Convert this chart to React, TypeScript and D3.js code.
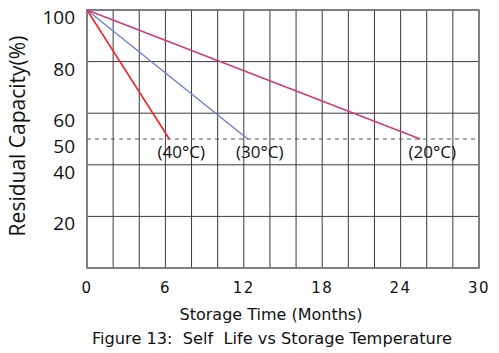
import * as d3 from 'd3';

const W = 499;
const H = 353;
const MARGIN = { top: 10, right: 20, bottom: 85, left: 87 };

// months on x, residual capacity % on y
const gridMonths = d3.range(0, 31, 2);
const xTickValues = [0, 6, 12, 18, 24, 30];
const gridCapacity = [0, 20, 40, 60, 80, 100];
const yTickLabels = [100, 80, 60, 50, 40, 20];
const CUTOFF = 50;

const seriesNames = ['(40°C)', '(30°C)', '(20°C)'];
const seriesColors = ['#ff1a1a', '#6f7fe0', '#d43a78'];
const seriesEndMonths = [6.3, 12.3, 25.5];
const seriesStart = 100;

const FONT = '"DejaVu Sans", Verdana, sans-serif';
const FONT2 = 'Open Sans, Noto Sans, sans-serif';

export default function App() {
  const innerW = W - MARGIN.left - MARGIN.right;
  const innerH = H - MARGIN.top - MARGIN.bottom;

  const x = d3.scaleLinear().domain([0, 30]).range([0, innerW]);
  const y = d3.scaleLinear().domain([0, 100]).range([innerH, 0]);
  const line = d3.line<[number, number]>().x(d => x(d[0])).y(d => y(d[1]));

  return (
    <svg width={W} height={H} style={{ position: 'absolute', left: 0, top: 0, background: '#fff' }}>
      <g transform={`translate(${MARGIN.left},${MARGIN.top})`}>
        {/* grid */}
        {gridMonths.map(m => (
          <line key={'v' + m} x1={x(m)} x2={x(m)} y1={0} y2={innerH} stroke="#3a3a3a" strokeWidth={1} />
        ))}
        {gridCapacity.map(v => (
          <line key={'h' + v} x1={0} x2={innerW} y1={y(v)} y2={y(v)} stroke="#3a3a3a" strokeWidth={1} />
        ))}
        <rect x={0} y={0} width={innerW} height={innerH} fill="none" stroke="#777" strokeWidth={1.5} />

        {/* 50% cutoff */}
        <line x1={0} x2={innerW} y1={y(CUTOFF)} y2={y(CUTOFF)} stroke="#555" strokeWidth={1} strokeDasharray="4,4" />

        {/* series */}
        {seriesNames.map((name, i) => (
          <path key={name}
            d={line([[0, seriesStart], [seriesEndMonths[i], CUTOFF]]) || ''}
            fill="none" stroke={seriesColors[i]} strokeWidth={1.5} />
        ))}
        {seriesNames.map((name, i) => (
          <text key={'l' + name} x={x(seriesEndMonths[i]) + 12} y={y(CUTOFF) + 19}
            textAnchor="middle" style={{ fontFamily: FONT2 }} fontSize={17} fill="#111">{name}</text>
        ))}

        {/* y tick labels */}
        {yTickLabels.map(v => (
          <text key={'yt' + v} x={-12} y={y(v) + 14} textAnchor="end"
            style={{ fontFamily: FONT2 }} fontSize={19} fill="#111">{v}</text>
        ))}

        {/* x tick labels */}
        {xTickValues.map(m => (
          <text key={'xt' + m} x={x(m)} y={innerH + 25} textAnchor="middle"
            fontFamily={FONT} fontSize={15} letterSpacing={1.5} fill="#111">{m}</text>
        ))}

        <text x={innerW / 2 - 12} y={innerH + 52} textAnchor="middle"
          fontFamily={FONT} fontSize={16} fill="#111">Storage Time (Months)</text>
      </g>

      <text transform={`translate(25,${MARGIN.top + innerH / 2 - 3}) rotate(-90)`} textAnchor="middle"
        style={{ fontFamily: FONT2 }} fontSize={21} fill="#111">Residual Capacity(%)</text>

      <text x={272} y={344} textAnchor="middle" fontFamily={FONT} fontSize={16.2} fill="#111"
        style={{ whiteSpace: 'pre' }}>{'Figure 13:  Self  Life vs Storage Temperature'}</text>
    </svg>
  );
}
